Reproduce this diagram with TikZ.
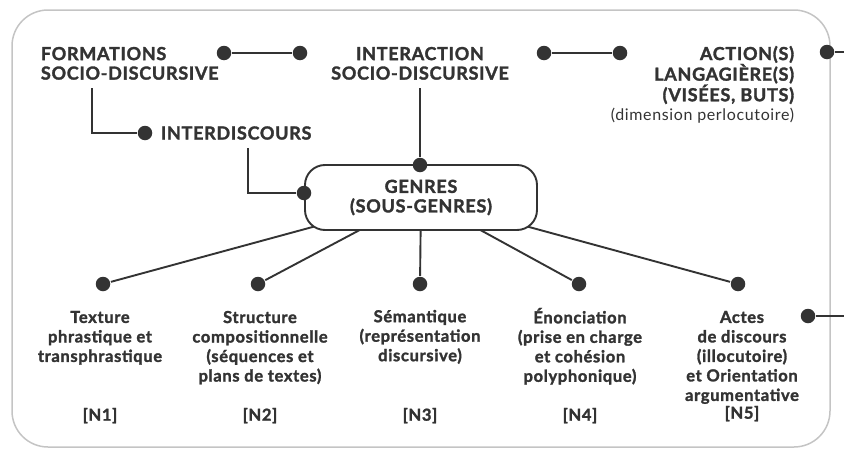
\documentclass[tikz,border=0pt]{standalone}
\usepackage{fontspec}
\setmainfont{Lato}[LetterSpace=4, BoldFeatures={FakeBold=1.7}]
\usepackage{tikz}
\usetikzlibrary{positioning}
\definecolor{ink}{HTML}{333333}
\definecolor{frame}{HTML}{C4C4C4}

\begin{document}
\begin{tikzpicture} [x=1pt, y=-1pt, ink, line width=1.9pt,
	dot/.style={circle, fill=ink, inner sep=0pt, minimum size=14.5pt},
	caps/.style={font=\fontsize{18}{19.5}\selectfont\bfseries, inner sep=0pt},
	level/.style={font=\fontsize{16.5}{19.5}\selectfont\bfseries, align=center, inner sep=0pt, anchor=north}]
			% Size of the page
			\useasboundingbox (0,0) rectangle (844,450);
			% Outer frame
			\draw [frame, line width=1.5pt, rounded corners=36pt] (12,10) rectangle (830,447);

			% Top row
			\node (fs) [caps, align=left, anchor=north west] at (40,46) {FORMATIONS\\SOCIO-DISCURSIVE};
			\node (is) [caps, align=center, anchor=north] at (420,46) {INTERACTION\\SOCIO-DISCURSIVE};
			\node (as) [caps, align=right, anchor=north east] at (795,45)
			{ACTION(S)\\LANGAGIÈRE(S)\\(VISÉES, BUTS)\\{\fontsize{16}{19.5}\selectfont\mdseries (dimension perlocutoire)}};

			\node (d1) [dot] at (224,53) {};
			\node (d2) [dot] at (300,53) {};
			\node (d3) [dot] at (544,53) {};
			\node (d4) [dot] at (620,53) {};
			\node (d5) [dot] at (827,52) {};
			\coordinate (e5) at (844,52);

			% Interdiscours
			\node (dI) [dot] at (145,133) {};
			\node (id) [caps, anchor=west] at (160,133) {INTERDISCOURS};
			\coordinate (f1) at (92,88);
			\coordinate (i1) at (248,148);
			\coordinate (i2) at (420,88);

			% Levels N1 .. N5
			\node (b1) [dot] at (103,284) {};
			\node (b2) [dot] at (258,284) {};
			\node (b3) [dot] at (420,284) {};
			\node (b4) [dot] at (579,284) {};
			\node (b5) [dot] at (738,284) {};

			\node (t1) [level] at (100,310) {Texture\\phrastique et\\transphrastique};
			\node (t2) [level] at (260,310) {Structure\\compositionnelle\\(séquences et\\plans de textes)};
			\node (t3) [level] at (420,309) {Sémantique\\(représentation\\discursive)};
			\node (t4) [level] at (580,307) {Énonciation\\(prise en charge\\et cohésion\\polyphonique)};
			\node (t5) [level] at (742,310) {Actes\\de discours\\(illocutoire)\\et Orientation\\argumentative};

			\node (n1) [level] at (100,407) {[N1]};
			\node (n2) [level] at (260,407) {[N2]};
			\node (n3) [level] at (420,407) {[N3]};
			\node (n4) [level] at (580,407) {[N4]};
			\node (n5) [level] at (742,405) {[N5]};

			\node (d6) [dot] at (808,316) {};
			\coordinate (e6) at (844,316);

			% Spokes under the box
			\coordinate (gc) at (421,197.5);
			\path [draw]
			(b1) -- (gc)
			(b2) -- (gc)
			(b3) -- (gc)
			(b4) -- (gc)
			(b5) -- (gc);

			% Genres box
			\node (g) [draw, fill=white, rounded corners=20pt, minimum width=232pt, minimum height=65pt,
			caps, align=center] at (gc) {GENRES\\(SOUS-GENRES)};
			\node (gt) [dot] at (420,165) {};
			\node (gl) [dot] at (304,193) {};

			% Draw Connections
			\path [draw]
			(d1) -- (d2)
			(d3) -- (d4)
			(d5) -- (e5)
			(d6) -- (e6)
			(f1) |- (dI)
			(i1) |- (gl)
			(i2) -- (gt);
		\end{tikzpicture}
\end{document}
